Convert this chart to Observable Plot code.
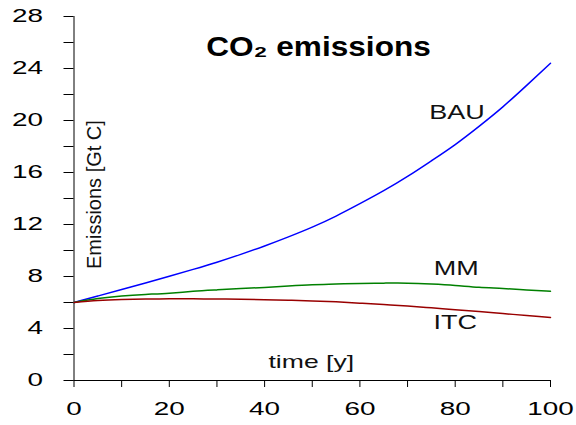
<!DOCTYPE html>
<html>
<head>
<meta charset="utf-8">
<script src="https://cdn.jsdelivr.net/npm/d3@7"></script>
<script src="https://cdn.jsdelivr.net/npm/@observablehq/plot@0.6"></script>
<style>
  body { margin: 0; background: #fff; }
  #chart svg { display: block; background: #fff; }
</style>
</head>
<body>
<div id="chart"></div>
<script>
// Simulation years and CO2 emission paths (Gt C) for the three scenarios
const years = [0, 5, 10, 15, 20, 25, 30, 35, 40, 45, 50, 55, 60, 65, 70, 75, 80, 85, 90, 95, 100];
const bau = [6.0, 6.5, 7.0, 7.5, 8.02, 8.55, 9.1, 9.7, 10.35, 11.05, 11.8, 12.65, 13.6, 14.6, 15.7, 16.9, 18.15, 19.55, 21.05, 22.7, 24.4];
const mm  = [6.0, 6.3, 6.5, 6.62, 6.72, 6.86, 6.97, 7.07, 7.16, 7.27, 7.37, 7.42, 7.47, 7.49, 7.49, 7.42, 7.31, 7.17, 7.08, 6.97, 6.87];
const itc = [6.0, 6.15, 6.23, 6.27, 6.28, 6.28, 6.27, 6.25, 6.21, 6.17, 6.12, 6.05, 5.95, 5.84, 5.73, 5.59, 5.45, 5.3, 5.15, 5.0, 4.85];

const seriesNames = ["BAU", "MM", "ITC"];
const seriesColors = ["#0000ff", "#008000", "#990000"];
const xTicks = [0, 10, 20, 30, 40, 50, 60, 70, 80, 90, 100];
const yTicks = [0, 2, 4, 6, 8, 10, 12, 14, 16, 18, 20, 22, 24, 26, 28];

// long-format rows for the line mark
const rows = [];
[bau, mm, itc].forEach((vals, k) => {
  vals.forEach((v, i) => rows.push({series: seriesNames[k], t: years[i], v}));
});

const font = "'Liberation Sans', Arial, Helvetica, sans-serif";

const svg = Plot.plot({
  width: 576,
  height: 425,
  marginLeft: 73.5,
  marginRight: 26,
  marginTop: 16,
  marginBottom: 45,
  style: {fontFamily: font, fontSize: "18px", color: "#000", background: "#fff", overflow: "visible"},
  x: {
    domain: [0, 100],
    ticks: xTicks,
    tickSize: 7,
    tickPadding: 15,
    tickFormat: d => d % 20 === 0 ? String(d) : "",
    line: true,
    label: null
  },
  y: {
    domain: [0, 28],
    ticks: yTicks,
    tickSize: 10,
    tickPadding: 21,
    tickFormat: d => d % 4 === 0 ? String(d) : "",
    line: true,
    label: null
  },
  color: {domain: seriesNames, range: seriesColors},
  marks: [
    Plot.line(rows, {x: "t", y: "v", z: "series", stroke: "series", strokeWidth: 1.5, curve: "natural"}),
    // scenario labels beside their curves
    Plot.text(["BAU"], {x: 80.4, y: 20.6, text: d => d, fontSize: 20, fill: "#111"}),
    Plot.text(["MM"], {x: 80.2, y: 8.6, text: d => d, fontSize: 20, fill: "#111"}),
    Plot.text(["ITC"], {x: 80, y: 4.45, text: d => d, fontSize: 20, fill: "#111"}),
    // panel title and axis titles drawn inside the frame
    Plot.text(["CO₂ emissions"], {x: 51.3, y: 25.6, text: d => d, fontSize: 27, fontWeight: "bold", fill: "#000"}),
    Plot.text(["time [y]"], {x: 49.8, y: 1.45, text: d => d, fontSize: 19, fill: "#111"}),
    Plot.text(["Emissions [Gt C]"], {x: 4.3, y: 14.3, text: d => d, fontSize: 20, rotate: -90, fill: "#111"})
  ]
});

document.getElementById("chart").append(svg);

// widen the lettering horizontally, keeping each label's anchor in place
function stretchOf(s) {
  if (/^\d+$/.test(s)) return 1.55;
  if (s === "BAU" || s === "MM" || s === "ITC") return 1.35;
  if (s === "time [y]") return 1.4;
  if (s.startsWith("CO")) return 1.17;
  return 1;
}
svg.querySelectorAll("text").forEach(t => {
  const s = stretchOf(t.textContent.trim());
  if (s === 1 || !t.textContent.trim()) return;
  const b = t.getBBox();
  const anchor = getComputedStyle(t).textAnchor || t.getAttribute("text-anchor");
  const px = anchor === "end" ? b.x + b.width : anchor === "start" ? b.x : b.x + b.width / 2;
  const tr = t.getAttribute("transform") || "";
  t.setAttribute("transform", `${tr} translate(${px},0) scale(${s},1) translate(${-px},0)`);
});
</script>
</body>
</html>
